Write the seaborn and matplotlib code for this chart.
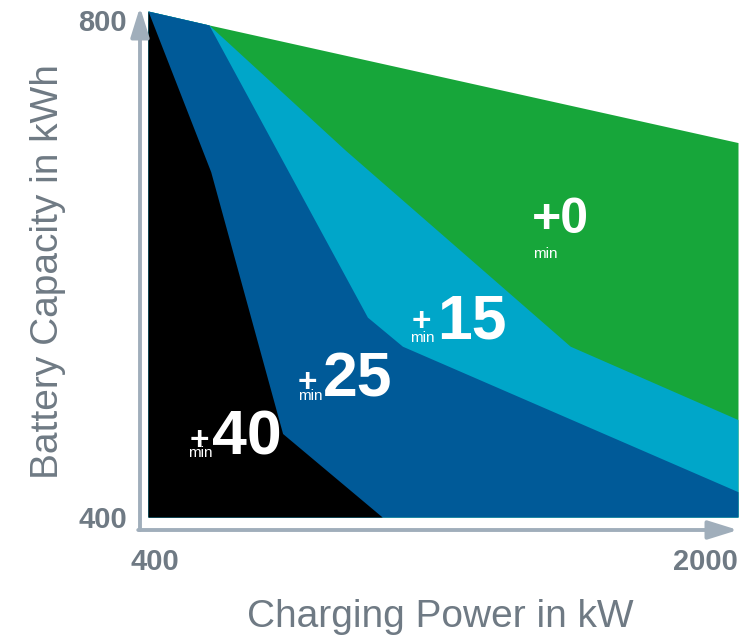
import matplotlib
matplotlib.use("Agg")
import matplotlib.pyplot as plt
from matplotlib.transforms import ScaledTranslation
import seaborn as sns

# Upper boundary of each charging-time zone (kW -> kWh)
green_x = [400, 565, 2000]
green_y = [800, 789, 696]

cyan_x = [400, 565, 935, 1545, 2000]
cyan_y = [800, 789, 690, 535, 477]

blue_x = [400, 565, 995, 1090, 2000]
blue_y = [800, 789, 558, 535, 420]

black_x = [400, 570, 765, 1035]
black_y = [800, 673, 466, 400]

zone_labels = ["+0", "+15", "+25", "+40"]
x_ticks = [400, 2000]
y_ticks = [400, 800]

GREEN = "#17a63a"
CYAN = "#00a6c9"
BLUE = "#005a98"
BLACK = "#000000"
AXIS_GREY = "#a0aebb"
TEXT_GREY = "#6f7a84"

sns.set_theme(style="white")
plt.rcParams["font.family"] = ["Liberation Sans", "DejaVu Sans"]

fig = plt.figure(figsize=(7.56, 6.35), dpi=100)
W, H = 756, 635
L, R, T, B = 148, 738, 11, 517
ax = fig.add_axes([L / W, (H - B) / H, (R - L) / W, (B - T) / H])

YMIN = 400
for xs, ys, col in [(green_x, green_y, GREEN), (cyan_x, cyan_y, CYAN),
                    (blue_x, blue_y, BLUE), (black_x, black_y, BLACK)]:
    ax.fill_between(xs, YMIN, ys, color=col, linewidth=0)

ax.set_xlim(400, 2000)
ax.set_ylim(400, 800)
sns.despine(ax=ax, left=True, bottom=True)

# Arrowed axes drawn just outside the plotting area
arrow_kw = dict(arrowstyle="-|>,head_length=0.9,head_width=0.28",
                color=AXIS_GREY, lw=2.8, mutation_scale=20,
                shrinkA=0, shrinkB=0)
x0 = (140 - L) / (R - L)
y0 = (B - 530) / (B - T)
ax.annotate("", xy=(x0, (B - 7) / (B - T)), xytext=(x0, y0),
            xycoords="axes fraction", textcoords="axes fraction",
            arrowprops=arrow_kw, annotation_clip=False)
ax.annotate("", xy=(1.0, y0), xytext=(x0 - 0.003, y0),
            xycoords="axes fraction", textcoords="axes fraction",
            arrowprops=arrow_kw, annotation_clip=False)

# Ticks
ax.set_xticks(x_ticks)
ax.set_yticks(y_ticks)
ax.tick_params(axis="both", length=0, labelsize=21, labelcolor=TEXT_GREY)
ax.tick_params(axis="x", pad=22)
ax.tick_params(axis="y", pad=15)
for lab in ax.get_xticklabels() + ax.get_yticklabels():
    lab.set_fontweight("bold")
xl = ax.get_xticklabels()
xl[0].set_transform(xl[0].get_transform()
                    + ScaledTranslation(7 / 100, 0, fig.dpi_scale_trans))
xl[1].set_horizontalalignment("right")
yl = ax.get_yticklabels()
yl[1].set_transform(yl[1].get_transform()
                    + ScaledTranslation(0, -9 / 100, fig.dpi_scale_trans))

# Axis titles
ax.set_xlabel("Charging Power in kW", fontsize=28, color=TEXT_GREY)
ax.xaxis.label.set_va("baseline")
ax.xaxis.set_label_coords((440 - L) / (R - L), (B - 627) / (B - T))
ax.set_ylabel("Battery Capacity in kWh", fontsize=28, color=TEXT_GREY,
              rotation=90, rotation_mode="anchor", ha="center", va="baseline")
ax.yaxis.set_label_coords((58 - L) / (R - L), (B - 272) / (B - T))

# Zone labels: big number, small "+" and "min"
def zone_label(num, x_num, y_base, x_plus, y_plus, x_min, y_min, big=45, plus=24):
    ax.text(x_num, y_base, num, color="white", fontsize=big,
            fontweight="bold", ha="left", va="baseline")
    ax.text(x_plus, y_plus, "+", color="white", fontsize=plus,
            fontweight="bold", ha="left", va="center")
    ax.text(x_min, y_min, "min", color="white", fontsize=11,
            ha="left", va="baseline")

# +0 keeps the plus sign at full size
ax.text(1440, 624.5, zone_labels[0], color="white", fontsize=36,
        fontweight="bold", ha="left", va="baseline")
ax.text(1444, 604.7, "min", color="white", fontsize=11,
        ha="left", va="baseline")

zone_label(zone_labels[1][1:], 1184, 541.5, 1114, 553.4, 1110, 538.3)
zone_label(zone_labels[2][1:], 874, 494.9, 805, 505.9, 806, 492.5)
zone_label(zone_labels[3][1:], 573, 449.8, 513, 459.3, 508, 447.4)

fig.savefig("out.png", dpi=100)
